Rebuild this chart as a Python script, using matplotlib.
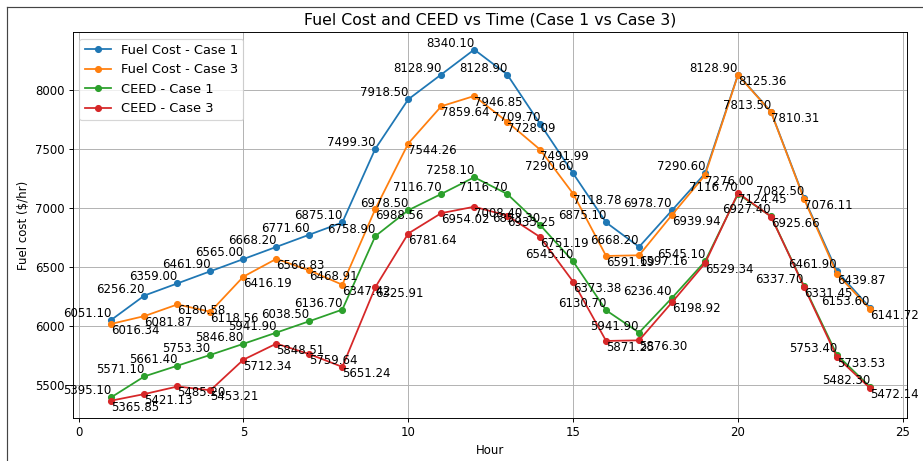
import matplotlib.pyplot as plt
from matplotlib.lines import Line2D

hours = list(range(1, 25))

fuel_case1 = [6051.10, 6256.20, 6359.00, 6461.90, 6565.00, 6668.20, 6771.60, 6875.10,
              7499.30, 7918.50, 8128.90, 8340.10, 8128.90, 7709.70, 7290.60, 6875.10,
              6668.20, 6978.70, 7290.60, 8128.90, 7813.50, 7082.50, 6461.90, 6153.60]
fuel_case3 = [6016.34, 6081.87, 6180.58, 6118.56, 6416.19, 6566.83, 6468.91, 6347.42,
              6988.56, 7544.26, 7859.64, 7946.85, 7728.09, 7491.99, 7118.78, 6591.19,
              6597.16, 6939.94, 7276.00, 8125.36, 7810.31, 7076.11, 6439.87, 6141.72]
ceed_case1 = [5395.10, 5571.10, 5661.40, 5753.30, 5846.80, 5941.90, 6038.50, 6136.70,
              6758.90, 6978.50, 7116.70, 7258.10, 7116.70, 6853.30, 6545.10, 6130.70,
              5941.90, 6236.40, 6545.10, 7116.70, 6927.40, 6337.70, 5753.40, 5482.30]
ceed_case3 = [5365.85, 5421.13, 5485.20, 5453.21, 5712.34, 5848.51, 5759.64, 5651.24,
              6325.91, 6781.64, 6954.02, 7008.40, 6933.25, 6751.19, 6373.38, 5871.25,
              5876.30, 6198.92, 6529.34, 7124.45, 6925.66, 6331.45, 5733.53, 5472.14]

fig = plt.figure(figsize=(923 / 85, 461 / 85), dpi=85)
ax = fig.add_axes([0.079, 0.093, 0.9035, 0.8375])

series = [
    (fuel_case1, 'Fuel Cost - Case 1', 'right', 'bottom'),
    (fuel_case3, 'Fuel Cost - Case 3', 'left', 'top'),
    (ceed_case1, 'CEED - Case 1', 'right', 'bottom'),
    (ceed_case3, 'CEED - Case 3', 'left', 'top'),
]
for vals, name, ha, va in series:
    ax.plot(hours, vals, marker='o', markersize=5, label=name)
    for h, v in zip(hours, vals):
        ax.text(h, v, f'{v:.2f}', ha=ha, va=va, fontsize=10)

ax.set_xlim(-0.17, 25.12)
ax.set_xlabel('Hour')
ax.set_ylabel('Fuel cost ($/hr)')
ax.set_title('Fuel Cost and CEED vs Time (Case 1 vs Case 3)', fontsize=13.4)
ax.grid(True)
ax.legend(loc='upper left', fontsize=11)

# page frame visible in the screenshot
fig.add_artist(Line2D([7 / 923, 7 / 923], [0, 1 - 7 / 461], color='#444444', lw=1))
fig.add_artist(Line2D([7 / 923, 1], [1 - 7 / 461, 1 - 7 / 461], color='#444444', lw=1))

fig.savefig('out.png', dpi=85)
